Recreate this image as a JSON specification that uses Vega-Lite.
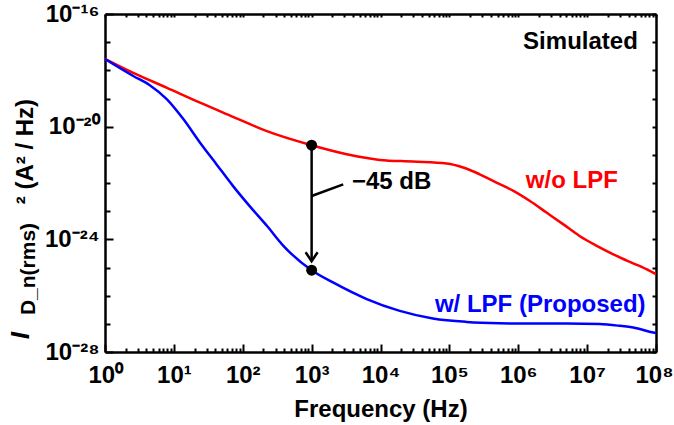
{
  "$schema": "https://vega.github.io/schema/vega-lite/v6.json",
  "width": 551,
  "height": 338,
  "autosize": "none",
  "padding": {"left": 105, "top": 14, "right": 18, "bottom": 73},
  "background": "white",
  "config": {
    "view": {"stroke": null},
    "axis": {
      "grid": false,
      "domainColor": "black",
      "domainWidth": 2.5,
      "tickColor": "black",
      "tickWidth": 2,
      "labelFont": "Liberation Sans",
      "labelFontWeight": "bold",
      "labelFontSize": 24,
      "labelColor": "black",
      "labelFlush": false,
      "labelOverlap": false,
      "labelBound": false,
      "titleFont": "Liberation Sans",
      "titleFontWeight": "bold",
      "titleFontSize": 24,
      "titleColor": "black"
    }
  },
  "datasets": {
    "curves": [
      {"freq": 1, "value": 2.57e-18, "series": "w/o LPF"},
      {"freq": 2.57, "value": 8.13e-19, "series": "w/o LPF"},
      {"freq": 7.94, "value": 2.40e-19, "series": "w/o LPF"},
      {"freq": 24.0, "value": 7.08e-20, "series": "w/o LPF"},
      {"freq": 72.4, "value": 2.24e-20, "series": "w/o LPF"},
      {"freq": 224, "value": 6.92e-21, "series": "w/o LPF"},
      {"freq": 1000, "value": 2.19e-21, "series": "w/o LPF"},
      {"freq": 3236, "value": 1.05e-21, "series": "w/o LPF"},
      {"freq": 9772, "value": 6.61e-22, "series": "w/o LPF"},
      {"freq": 29512, "value": 5.75e-22, "series": "w/o LPF"},
      {"freq": 91201, "value": 4.90e-22, "series": "w/o LPF"},
      {"freq": 158489, "value": 3.55e-22, "series": "w/o LPF"},
      {"freq": 275423, "value": 2.04e-22, "series": "w/o LPF"},
      {"freq": 489779, "value": 1.02e-22, "series": "w/o LPF"},
      {"freq": 851138, "value": 5.25e-23, "series": "w/o LPF"},
      {"freq": 1479000, "value": 2.29e-23, "series": "w/o LPF"},
      {"freq": 2570000, "value": 8.91e-24, "series": "w/o LPF"},
      {"freq": 4467000, "value": 3.47e-24, "series": "w/o LPF"},
      {"freq": 7762000, "value": 1.32e-24, "series": "w/o LPF"},
      {"freq": 13800000, "value": 5.89e-25, "series": "w/o LPF"},
      {"freq": 23990000, "value": 2.95e-25, "series": "w/o LPF"},
      {"freq": 41690000, "value": 1.58e-25, "series": "w/o LPF"},
      {"freq": 72440000, "value": 8.71e-26, "series": "w/o LPF"},
      {"freq": 100000000, "value": 5.75e-26, "series": "w/o LPF"},
      {"freq": 1, "value": 2.51e-18, "series": "w/ LPF"},
      {"freq": 2.57, "value": 6.31e-19, "series": "w/ LPF"},
      {"freq": 4.47, "value": 2.95e-19, "series": "w/ LPF"},
      {"freq": 7.94, "value": 9.33e-20, "series": "w/ LPF"},
      {"freq": 13.8, "value": 1.82e-20, "series": "w/ LPF"},
      {"freq": 24.0, "value": 2.69e-21, "series": "w/ LPF"},
      {"freq": 41.7, "value": 4.57e-22, "series": "w/ LPF"},
      {"freq": 72.4, "value": 7.76e-23, "series": "w/ LPF"},
      {"freq": 126, "value": 1.51e-23, "series": "w/ LPF"},
      {"freq": 224, "value": 3.02e-24, "series": "w/ LPF"},
      {"freq": 389, "value": 5.89e-25, "series": "w/ LPF"},
      {"freq": 1000, "value": 8.0e-26, "series": "w/ LPF"},
      {"freq": 2042, "value": 2.95e-26, "series": "w/ LPF"},
      {"freq": 6310, "value": 7.59e-27, "series": "w/ LPF"},
      {"freq": 19055, "value": 2.88e-27, "series": "w/ LPF"},
      {"freq": 57544, "value": 1.55e-27, "series": "w/ LPF"},
      {"freq": 177828, "value": 1.17e-27, "series": "w/ LPF"},
      {"freq": 537032, "value": 1.05e-27, "series": "w/ LPF"},
      {"freq": 1660000, "value": 1.02e-27, "series": "w/ LPF"},
      {"freq": 5012000, "value": 1.02e-27, "series": "w/ LPF"},
      {"freq": 15140000, "value": 9.77e-28, "series": "w/ LPF"},
      {"freq": 29510000, "value": 8.51e-28, "series": "w/ LPF"},
      {"freq": 46770000, "value": 7.41e-28, "series": "w/ LPF"},
      {"freq": 91200000, "value": 4.90e-28, "series": "w/ LPF"},
      {"freq": 100000000, "value": 4.68e-28, "series": "w/ LPF"}
    ],
    "dots": [
      {"freq": 1000, "value": 2.19e-21},
      {"freq": 1000, "value": 8.0e-26}
    ]
  },
  "resolve": {"axis": {"x": "independent", "y": "independent"}},
  "layer": [
    {
      "data": {"name": "curves"},
      "mark": {"type": "line", "strokeWidth": 2.5, "interpolate": "monotone", "clip": true},
      "encoding": {
        "x": {
          "field": "freq", "type": "quantitative",
          "scale": {"type": "log", "domain": [1, 100000000], "nice": false},
          "axis": {
            "orient": "bottom",
            "values": [1, 10, 100, 1000, 10000, 100000, 1000000, 10000000, 100000000],
            "tickSize": -8,
            "labelPadding": 19,
            "labelFlush": true,
            "labelFlushOffset": 17,
            "labelExpr": "'10' + ['⁰','¹','²','³','⁴','⁵','⁶','⁷','⁸'][round(log(datum.value)/LN10)]",
            "title": "Frequency (Hz)",
            "titlePadding": 10
          }
        },
        "y": {
          "field": "value", "type": "quantitative",
          "scale": {"type": "log", "domain": [1e-28, 1e-16], "nice": false},
          "axis": {
            "orient": "left",
            "values": [1e-28, 1e-24, 1e-20, 1e-16],
            "tickSize": -8,
            "labelPadding": 14,
            "labelExpr": "'10⁻' + ['¹⁶','²⁰','²⁴','²⁸'][round((-log(datum.value)/LN10 - 16)/4)]",
            "title": null
          }
        },
        "color": {
          "field": "series", "type": "nominal",
          "scale": {"domain": ["w/o LPF", "w/ LPF"], "range": ["#ff0000", "#0000ff"]},
          "legend": null
        }
      }
    },
    {
      "data": {"values": [{}]},
      "mark": {"type": "rule", "color": "black", "strokeWidth": 2.5},
      "encoding": {
        "x": {
          "datum": 1000, "type": "quantitative",
          "axis": {
            "orient": "top",
            "values": [1,2,3,4,5,6,7,8,9,10,20,30,40,50,60,70,80,90,100,200,300,400,500,600,700,800,900,1000,2000,3000,4000,5000,6000,7000,8000,9000,10000,20000,30000,40000,50000,60000,70000,80000,90000,100000,200000,300000,400000,500000,600000,700000,800000,900000,1000000,2000000,3000000,4000000,5000000,6000000,7000000,8000000,9000000,10000000,20000000,30000000,40000000,50000000,60000000,70000000,80000000,90000000,100000000],
            "tickSize": -3,
            "labels": false,
            "title": null
          }
        },
        "y": {
          "datum": 2.19e-21, "type": "quantitative",
          "axis": {
            "orient": "right",
            "values": [1e-16,1e-17,1e-18,1e-19,1e-20,1e-21,1e-22,1e-23,1e-24,1e-25,1e-26,1e-27,1e-28],
            "tickSize": -4,
            "labels": false,
            "title": null
          }
        },
        "y2": {"datum": 1.67e-25}
      }
    },
    {
      "data": {"values": [{}]},
      "mark": {"type": "rule", "color": "black", "strokeWidth": 2.5},
      "encoding": {
        "x": {"datum": 1000, "type": "quantitative", "axis": null},
        "y": {"datum": 3.46e-23, "type": "quantitative", "axis": null},
        "x2": {"datum": 2876},
        "y2": {"datum": 8.99e-23}
      }
    },
    {
      "data": {"values": [{}]},
      "mark": {"type": "point", "shape": "M-1,-1.5L0,0L1,-1.5", "size": 144, "filled": false, "stroke": "black", "strokeWidth": 2.5, "opacity": 1},
      "encoding": {
        "x": {"datum": 1000, "type": "quantitative", "axis": null},
        "y": {"datum": 1.67e-25, "type": "quantitative", "axis": null}
      }
    },
    {
      "data": {"name": "dots"},
      "mark": {"type": "point", "filled": true, "shape": "circle", "size": 120, "color": "black", "opacity": 1},
      "encoding": {
        "x": {
          "field": "freq", "type": "quantitative",
          "axis": {
            "orient": "bottom",
            "values": [2,3,4,5,6,7,8,9,20,30,40,50,60,70,80,90,200,300,400,500,600,700,800,900,2000,3000,4000,5000,6000,7000,8000,9000,20000,30000,40000,50000,60000,70000,80000,90000,200000,300000,400000,500000,600000,700000,800000,900000,2000000,3000000,4000000,5000000,6000000,7000000,8000000,9000000,20000000,30000000,40000000,50000000,60000000,70000000,80000000,90000000],
            "tickSize": -4,
            "labels": false,
            "domain": false,
            "title": null
          }
        },
        "y": {
          "field": "value", "type": "quantitative",
          "axis": {
            "orient": "left",
            "values": [1e-17,1e-18,1e-19,1e-21,1e-22,1e-23,1e-25,1e-26,1e-27],
            "tickSize": -5,
            "labels": false,
            "domain": false,
            "title": null
          }
        }
      }
    },
    {
      "data": {"values": [{}]},
      "mark": {"type": "text", "text": "−45 dB", "align": "left", "baseline": "alphabetic", "font": "Liberation Sans", "fontWeight": "bold", "fontSize": 24, "color": "black"},
      "encoding": {
        "x": {"datum": 3846, "type": "quantitative", "axis": null},
        "y": {"datum": 5.98e-23, "type": "quantitative", "axis": null}
      }
    },
    {
      "data": {"values": [{}]},
      "mark": {"type": "text", "text": "Simulated", "align": "right", "baseline": "alphabetic", "font": "Liberation Sans", "fontWeight": "bold", "fontSize": 24, "color": "black"},
      "encoding": {
        "x": {"datum": 54450000, "type": "quantitative", "axis": null},
        "y": {"datum": 5.51e-18, "type": "quantitative", "axis": null}
      }
    },
    {
      "data": {"values": [{}]},
      "mark": {"type": "text", "text": "w/o LPF", "align": "left", "baseline": "alphabetic", "font": "Liberation Sans", "fontWeight": "bold", "fontSize": 24, "color": "#ff0000"},
      "encoding": {
        "x": {"datum": 1290000, "type": "quantitative", "axis": null},
        "y": {"datum": 6.49e-23, "type": "quantitative", "axis": null}
      }
    },
    {
      "data": {"values": [{}]},
      "mark": {"type": "text", "text": "w/ LPF (Proposed)", "align": "left", "baseline": "alphabetic", "font": "Liberation Sans", "fontWeight": "bold", "fontSize": 24, "color": "#0000ff"},
      "encoding": {
        "x": {"datum": 61700, "type": "quantitative", "axis": null},
        "y": {"datum": 2.60e-27, "type": "quantitative", "axis": null}
      }
    },
    {
      "data": {"values": [{}]},
      "mark": {"type": "text", "text": "I", "angle": 270, "align": "left", "baseline": "alphabetic", "font": "Liberation Sans", "fontWeight": "bold", "fontStyle": "italic", "fontSize": 26, "color": "black"},
      "encoding": {
        "x": {"datum": 0.0788, "type": "quantitative", "axis": null},
        "y": {"datum": 2.86e-28, "type": "quantitative", "axis": null}
      }
    },
    {
      "data": {"values": [{}]},
      "mark": {"type": "text", "text": "D_n(rms)", "angle": 270, "align": "left", "baseline": "alphabetic", "font": "Liberation Sans", "fontWeight": "bold", "fontSize": 21, "color": "black"},
      "encoding": {
        "x": {"datum": 0.0963, "type": "quantitative", "axis": null},
        "y": {"datum": 2.04e-27, "type": "quantitative", "axis": null}
      }
    },
    {
      "data": {"values": [{}]},
      "mark": {"type": "text", "text": "² (A² / Hz)", "angle": 270, "align": "left", "baseline": "alphabetic", "font": "Liberation Sans", "fontWeight": "bold", "fontSize": 24, "color": "black"},
      "encoding": {
        "x": {"datum": 0.0902, "type": "quantitative", "axis": null},
        "y": {"datum": 1.76e-23, "type": "quantitative", "axis": null}
      }
    }
  ]
}
